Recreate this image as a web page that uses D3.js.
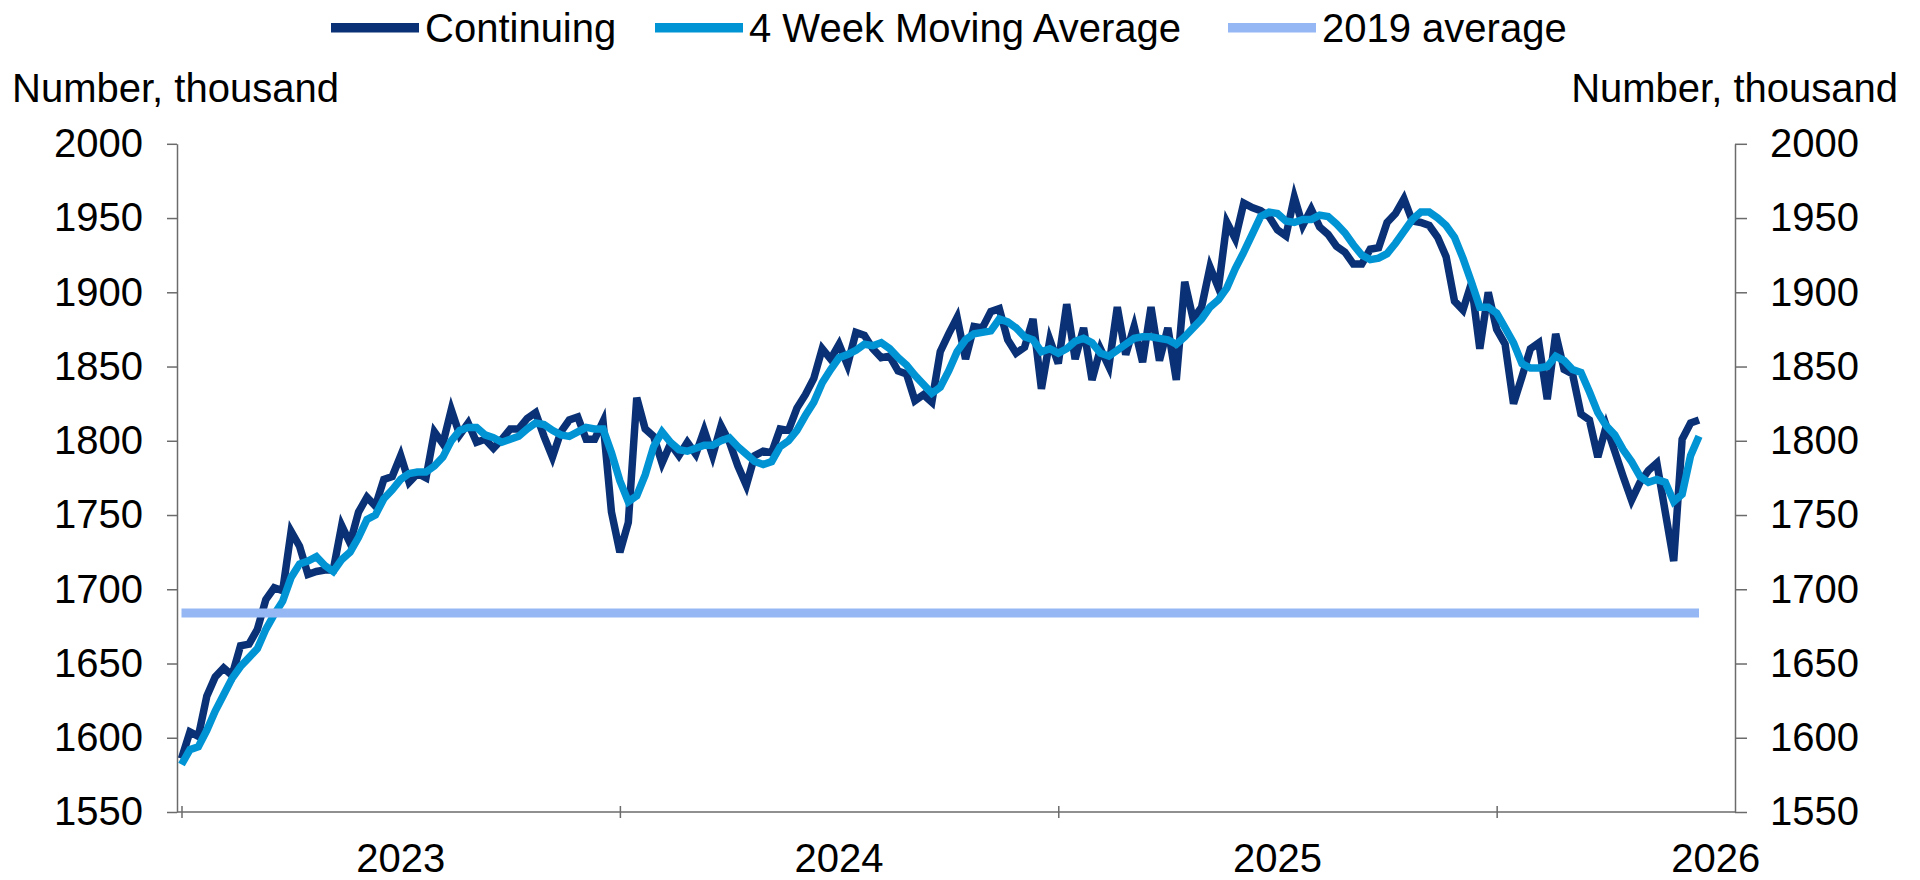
<!DOCTYPE html>
<html>
<head>
<meta charset="utf-8">
<script src="https://cdn.jsdelivr.net/npm/d3@7"></script>
<style>
  body { margin: 0; background: #fff; }
  svg text { font-family: "Liberation Sans", Arial, sans-serif; fill: #000; }
</style>
</head>
<body>
<div id="chart"></div>
<script>
// weekly continuing claims, thousand
var continuing = [
  1586, 1604, 1601, 1628, 1641, 1647, 1642, 1662, 1663, 1673,
  1693, 1701, 1699, 1739, 1729, 1710, 1712, 1713, 1713, 1743,
  1731, 1752, 1762, 1756, 1774, 1776, 1790, 1772, 1778, 1775,
  1806, 1798, 1821, 1804, 1812, 1799, 1801, 1795, 1801, 1808,
  1808, 1815, 1819, 1803, 1789, 1806, 1814, 1816, 1801, 1801,
  1813, 1752, 1725, 1745, 1829, 1808, 1803, 1785, 1798, 1790,
  1799, 1791, 1807, 1790, 1810, 1799, 1783, 1770, 1790, 1793,
  1792, 1808, 1807, 1822, 1831, 1842, 1862, 1855, 1865, 1851,
  1873, 1871, 1862, 1856, 1857, 1847, 1845, 1827, 1831, 1826,
  1860, 1872, 1883, 1855, 1877, 1876, 1887, 1889, 1868, 1859,
  1863, 1882, 1835, 1868, 1852, 1892, 1855, 1876, 1841, 1862,
  1850, 1890, 1858, 1877, 1853, 1890, 1854, 1876, 1841, 1907,
  1882, 1890, 1917, 1903, 1947, 1936, 1960, 1957, 1955, 1951,
  1942, 1938, 1964, 1945, 1956, 1944, 1939, 1931, 1927, 1919,
  1919, 1929, 1930, 1947, 1953, 1963, 1948, 1947, 1945, 1937,
  1924, 1894, 1888, 1906, 1862, 1900, 1875, 1865, 1825, 1843,
  1862, 1866, 1828, 1872, 1848, 1845, 1818, 1814, 1789, 1810,
  1793, 1776, 1760, 1772, 1780, 1785, 1752, 1719, 1801, 1812,
  1814
];

var movingAvg = [
  1582, 1592, 1594, 1605, 1618, 1629, 1640, 1648, 1654, 1660,
  1673, 1683, 1692, 1708, 1717, 1719, 1722, 1716, 1712, 1720,
  1725, 1735, 1747, 1750, 1761, 1767, 1774, 1778, 1779, 1779,
  1783, 1789, 1800, 1807, 1809, 1809, 1804, 1802, 1799, 1801,
  1803, 1808, 1812, 1811, 1807, 1804, 1803, 1806, 1809, 1808,
  1808, 1792, 1773, 1759, 1763, 1777, 1796, 1806, 1799, 1794,
  1793, 1795, 1797, 1797, 1800, 1802, 1796, 1791, 1786, 1784,
  1786, 1796, 1800, 1807, 1817, 1826, 1839, 1848, 1856, 1858,
  1861, 1865, 1864, 1866, 1862, 1856, 1851, 1844, 1838, 1832,
  1836, 1847, 1860, 1868, 1872, 1873, 1874, 1882, 1880, 1876,
  1870, 1868, 1860, 1862, 1859, 1862, 1867, 1869, 1866, 1859,
  1857, 1861, 1865, 1869, 1870, 1870, 1869, 1868, 1865, 1870,
  1876, 1882, 1890, 1895, 1903, 1916, 1927, 1939, 1951, 1954,
  1953, 1948, 1947, 1949, 1949, 1952, 1951, 1946, 1940, 1932,
  1925, 1922, 1923, 1926, 1933, 1941, 1949, 1954, 1954, 1950,
  1945, 1937, 1923, 1907, 1890, 1890, 1886, 1876, 1866, 1852,
  1849, 1849, 1850, 1857, 1854, 1848, 1846, 1833, 1819, 1810,
  1804, 1794, 1786, 1776, 1772, 1774, 1772, 1759, 1764, 1790,
  1803
];

var avg2019 = 1684;

var yTicks = [1550, 1600, 1650, 1700, 1750, 1800, 1850, 1900, 1950, 2000];
var yearTicks = [0, 52, 104, 156];          // week index of each tick mark
var yearLabelWeeks = [26, 78, 130, 182];    // labels sit between ticks
var yearLabels = ["2023", "2024", "2025", "2026"];

var seriesNames = ["Continuing", "4 Week Moving Average", "2019 average"];
var seriesColors = ["#0a3175", "#0094d4", "#95b7f3"];

var fullWidth = 1920;
var fullHeight = 880;
var plotLeft = 177, plotRight = 1735;
var fontSize = 40;
var axisColor = "#6b6b6b";

var svg = d3.select("#chart")
  .append("svg")
  .attr("width", fullWidth)
  .attr("height", fullHeight);

var xScale = d3.scaleLinear().domain([0, continuing.length - 1]).range([181.5, 1699]);
var yScale = d3.scaleLinear().domain([1550, 2000]).range([812, 143.8]);

// y axes, left and right
var yAxisLeft = d3.axisLeft(yScale).tickValues(yTicks).tickFormat(d3.format("d"))
  .tickSize(10).tickSizeOuter(0).tickPadding(24);
var yAxisRight = d3.axisRight(yScale).tickValues(yTicks).tickFormat(d3.format("d"))
  .tickSize(12).tickSizeOuter(0).tickPadding(23);

var gl = svg.append("g").attr("transform", "translate(" + plotLeft + ",0)").call(yAxisLeft);
var gr = svg.append("g").attr("transform", "translate(" + plotRight + ",0)").call(yAxisRight);

[gl, gr].forEach(function(g) {
  g.attr("font-size", fontSize).attr("font-family", null);
  g.selectAll("path, line").attr("stroke", axisColor).attr("stroke-width", 1.5);
  g.selectAll("text").attr("fill", "#000");
});

// x axis: ticks cross the line, labels centred between ticks
var xAxis = d3.axisBottom(xScale).tickValues(yearTicks).tickSize(6).tickSizeOuter(0).tickFormat("");
var gx = svg.append("g").attr("transform", "translate(0," + yScale(1550) + ")").call(xAxis);
gx.select(".domain").remove();
gx.selectAll("line").attr("y1", -6).attr("y2", 6).attr("stroke", axisColor).attr("stroke-width", 1.5);
svg.append("line")
  .attr("x1", plotLeft).attr("x2", plotRight)
  .attr("y1", yScale(1550)).attr("y2", yScale(1550))
  .attr("stroke", axisColor).attr("stroke-width", 1.5);

svg.selectAll(".yearLabel")
  .data(yearLabels)
  .enter().append("text")
  .attr("class", "yearLabel")
  .attr("x", function(d, i) { return xScale(yearLabelWeeks[i]); })
  .attr("y", 872)
  .attr("text-anchor", "middle")
  .attr("font-size", fontSize)
  .text(function(d) { return d; });

// axis titles
svg.append("text").attr("x", 12).attr("y", 102).attr("font-size", fontSize).text("Number, thousand");
svg.append("text").attr("x", 1898).attr("y", 102).attr("text-anchor", "end").attr("font-size", fontSize).text("Number, thousand");

// lines
var line = d3.line()
  .x(function(d, i) { return xScale(i); })
  .y(function(d) { return yScale(d); });

svg.append("path")
  .datum(continuing)
  .attr("d", line)
  .attr("fill", "none")
  .attr("stroke", seriesColors[0])
  .attr("stroke-width", 7.5);

svg.append("path")
  .datum(movingAvg)
  .attr("d", line)
  .attr("fill", "none")
  .attr("stroke", seriesColors[1])
  .attr("stroke-width", 7.5);

svg.append("line")
  .attr("x1", xScale(0)).attr("x2", xScale(continuing.length - 1))
  .attr("y1", yScale(avg2019)).attr("y2", yScale(avg2019))
  .attr("stroke", seriesColors[2])
  .attr("stroke-width", 9);

// legend
var legendX = [331, 655, 1228];
var legend = svg.selectAll(".legend")
  .data(seriesNames)
  .enter().append("g")
  .attr("class", "legend")
  .attr("transform", function(d, i) { return "translate(" + legendX[i] + ",0)"; });

legend.append("rect")
  .attr("x", 0).attr("y", 23)
  .attr("width", 88).attr("height", 9.5)
  .attr("fill", function(d, i) { return seriesColors[i]; });

legend.append("text")
  .attr("x", 94).attr("y", 41.5)
  .attr("font-size", fontSize)
  .text(function(d) { return d; });
</script>
</body>
</html>
